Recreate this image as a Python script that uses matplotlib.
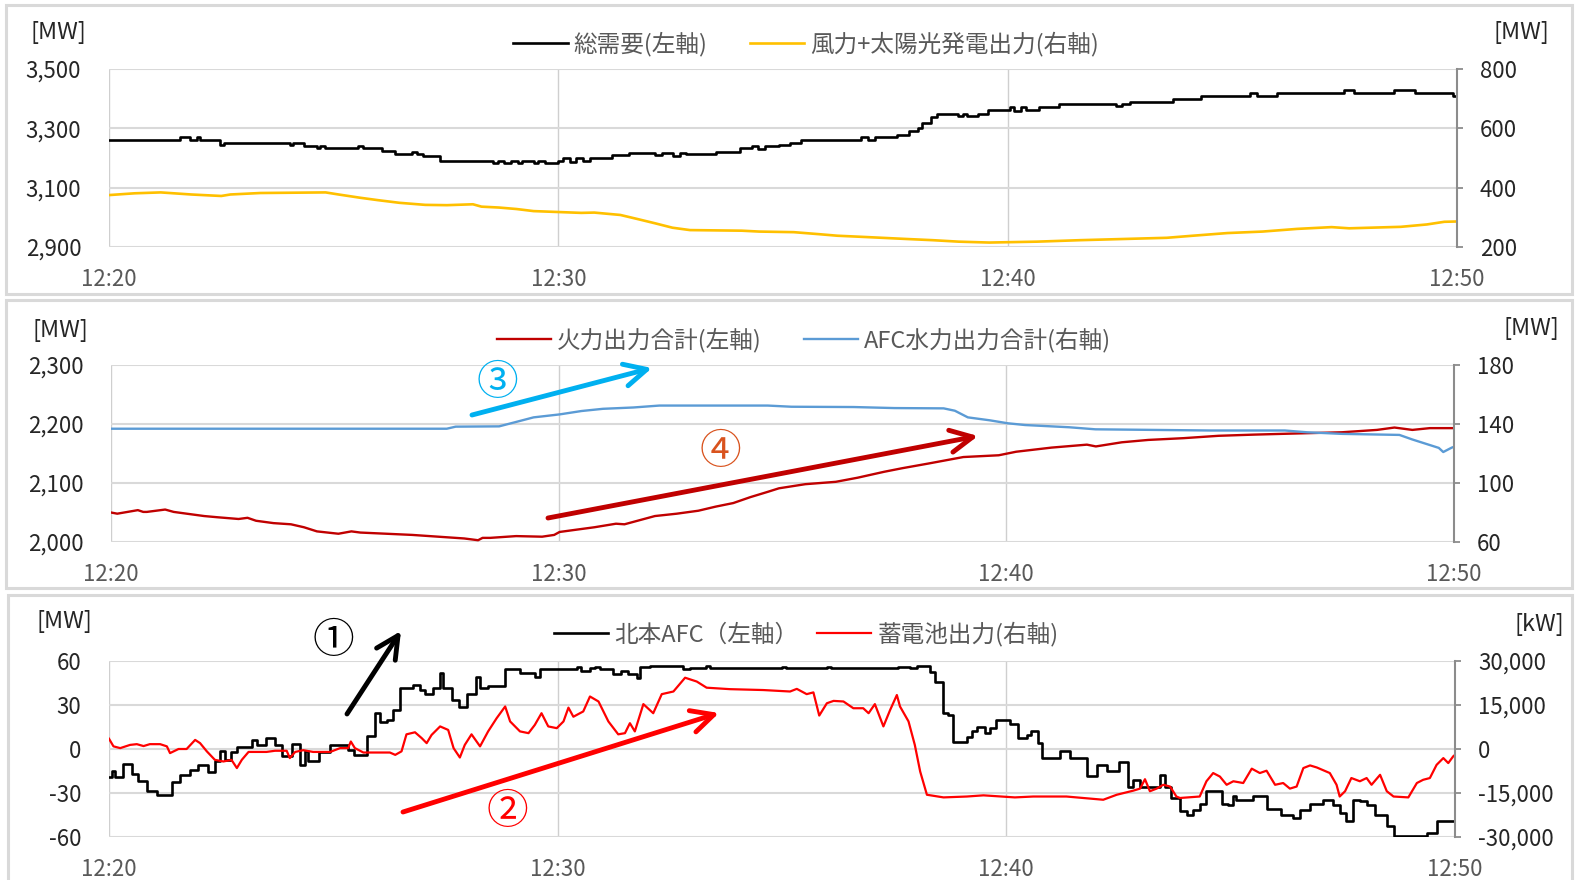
import matplotlib
matplotlib.use("Agg")
import matplotlib.pyplot as plt
from matplotlib.patches import Rectangle, FancyArrowPatch
from matplotlib.ticker import FuncFormatter

# ---------------------------------------------------------------------------
# Data (time in minutes after 12:20)
# ---------------------------------------------------------------------------
TIME_TICKS = [0, 10, 20, 30]
TIME_LABELS = ["12:20", "12:30", "12:40", "12:50"]

# Total demand [MW] (left axis, top panel)
DEMAND_MIN = [0, 1.58, 1.81, 1.95, 2.02, 2.46, 2.56, 4.02, 4.10, 4.33, 4.62, 4.70, 4.80,
              5.55, 5.65, 6.07, 6.36, 6.75, 6.85, 6.98, 7.37, 8.55, 8.65, 8.80, 8.95,
              9.10, 9.20, 9.45, 9.55, 9.70, 10.00, 10.10, 10.25, 10.40, 10.55, 10.70,
              11.19, 11.57, 12.15, 12.30, 12.55, 12.70, 12.85, 13.50, 14.05, 14.30,
              14.45, 14.60, 14.90, 15.15, 15.40, 16.74, 16.90, 17.05, 17.53, 17.80,
              18.00, 18.10, 18.30, 18.43, 18.90, 19.00, 19.10, 19.34, 19.56, 20.05,
              20.15, 20.30, 20.40, 20.70, 21.15, 22.40, 22.55, 22.73, 23.68, 24.30,
              25.40, 25.55, 26.00, 27.48, 27.70, 28.60, 29.06, 29.90, 30.00]
DEMAND_MW = [3260, 3272, 3260, 3272, 3260, 3245, 3250, 3244, 3250, 3240, 3234, 3240, 3235,
             3242, 3235, 3225, 3215, 3220, 3215, 3208, 3190, 3182, 3190, 3182, 3190,
             3182, 3190, 3182, 3190, 3182, 3190, 3200, 3188, 3200, 3190, 3200,
             3210, 3218, 3210, 3218, 3208, 3218, 3212, 3220, 3233, 3240,
             3232, 3240, 3245, 3250, 3260, 3272, 3262, 3272, 3276, 3290,
             3300, 3318, 3338, 3350, 3340, 3350, 3343, 3350, 3362, 3372,
             3360, 3372, 3362, 3372, 3381, 3376, 3381, 3390, 3398, 3410,
             3420, 3410, 3420, 3430, 3420, 3430, 3420, 3410, 3410]

# Wind + solar output [MW] (right axis, top panel)
RENEW_MIN = [0, 0.57, 1.15, 1.83, 2.50, 2.70, 3.37, 4.82, 5.11, 5.59, 5.98, 6.46, 7.04,
             7.52, 8.10, 8.29, 8.68, 9.07, 9.45, 10.51, 10.80, 11.38, 11.77, 12.15,
             12.54, 12.93, 14.08, 14.47, 15.24, 15.82, 16.21, 16.79, 17.75, 18.33,
             18.91, 19.59, 20.65, 21.61, 22.58, 23.54, 24.12, 24.89, 25.67, 26.44,
             27.21, 27.60, 28.75, 29.33, 29.72, 30.00]
RENEW_MW = [375, 381, 384, 377, 372, 377, 382, 384, 377, 366, 358, 349, 342,
            341, 344, 336, 333, 328, 321, 315, 316, 308, 294, 280,
            265, 257, 255, 252, 250, 243, 238, 234, 227, 223,
            218, 215, 218, 223, 227, 231, 238, 247, 252, 261,
            267, 263, 268, 276, 285, 286]

# Thermal output total [MW] (left axis, middle panel)
THERMAL_MIN = [0, 0.14, 0.60, 0.72, 0.80, 1.21, 1.40, 1.69, 2.08, 2.37, 2.85, 3.05, 3.24,
               3.63, 4.02, 4.31, 4.60, 5.08, 5.37, 5.57, 6.15, 6.73, 7.31, 7.89, 8.20,
               8.30, 8.47, 9.05, 9.63, 9.90, 10.02, 10.31, 10.80, 11.28, 11.47, 12.15,
               12.64, 13.12, 13.51, 13.90, 14.28, 14.67, 14.92, 15.51, 16.19, 16.68,
               17.27, 17.67, 18.26, 19.04, 19.83, 20.22, 21.01, 21.80, 22.00, 22.58,
               23.17, 23.96, 24.74, 25.53, 26.51, 27.50, 28.28, 28.67, 29.07, 29.46,
               30.00]
THERMAL_MW = [2050, 2048, 2054, 2051, 2051, 2055, 2051, 2048, 2044, 2042, 2039, 2041, 2036,
              2032, 2030, 2025, 2018, 2014, 2018, 2016, 2014, 2012, 2009, 2006, 2003,
              2007, 2007, 2010, 2009, 2012, 2017, 2020, 2025, 2031, 2030, 2044,
              2048, 2053, 2060, 2066, 2076, 2085, 2091, 2098, 2102, 2109,
              2119, 2125, 2133, 2144, 2147, 2153, 2160, 2165, 2162, 2169,
              2173, 2176, 2180, 2182, 2184, 2186, 2190, 2194, 2190, 2193,
              2193]

# AFC hydro output total [MW] (right axis, middle panel)
HYDRO_MIN = [0, 7.50, 7.70, 8.67, 9.00, 9.44, 10.02, 10.51, 10.99, 11.67, 12.25, 14.67,
             15.20, 16.59, 17.50, 18.60, 18.85, 19.14, 19.63, 20.03, 20.42, 21.40,
             21.99, 24.55, 26.22, 26.71, 27.50, 28.78, 29.07, 29.66, 29.76, 29.95, 30.00]
HYDRO_MW = [136.8, 136.8, 138.2, 138.4, 141.0, 144.5, 146.5, 148.8, 150.3, 151.2, 152.5, 152.5,
            151.7, 151.5, 150.8, 150.6, 149.0, 144.5, 142.5, 140.5, 139.3, 137.8,
            136.4, 135.6, 135.6, 134.4, 133.3, 132.6, 129.5, 123.8, 121.0, 124.0, 124.5]

# Hokkaido-Honshu link AFC [MW] (left axis, bottom panel)
AFC_MIN = [0, 0.06, 0.13, 0.32, 0.51, 0.65, 0.84, 1.06, 1.40, 1.58, 1.81, 1.99, 2.21, 2.36,
           2.47, 2.59, 2.73, 2.85, 3.18, 3.29, 3.51, 3.70, 3.85, 4.07, 4.26, 4.37, 4.44,
           4.67, 4.93, 5.33, 5.45, 5.74, 5.93, 6.04, 6.19, 6.34, 6.49, 6.78, 6.93, 7.04,
           7.23, 7.38, 7.45, 7.64, 7.79, 7.97, 8.19, 8.27, 8.45, 8.83, 9.16, 9.49, 9.61,
           10.42, 10.53, 10.72, 10.83, 10.94, 11.24, 11.42, 11.57, 11.76, 11.83, 12.06,
           12.80, 12.95, 13.30, 13.40, 15.00, 15.10, 16.00, 16.10, 17.26, 17.59, 17.85,
           18.00, 18.30, 18.41, 18.59, 18.71, 18.82, 19.12, 19.23, 19.34, 19.52, 19.64,
           19.78, 20.08, 20.27, 20.45, 20.56, 20.71, 20.79, 21.19, 21.42, 21.79, 22.01,
           22.24, 22.50, 22.72, 22.83, 22.98, 23.42, 23.53, 23.68, 23.87, 24.02, 24.16,
           24.31, 24.46, 24.80, 24.95, 25.06, 25.13, 25.50, 25.80, 26.13, 26.39, 26.54,
           26.77, 27.06, 27.29, 27.43, 27.58, 27.73, 27.88, 28.03, 28.22, 28.48, 28.63,
           29.37, 29.59, 30.00]
AFC_MW = [-19.4, -15.3, -19.4, -10.3, -17.0, -21.6, -28.9, -31.6, -22.6, -18.0, -14.4, -10.8,
          -16.0, -8.5, -1.7, -7.4, -2.1, 1.7, 6.2, 2.8, 7.8, 2.8, -5.1, 3.3, -10.8, -1.7,
          -8.5, -2.1, 2.8, -0.6, -4.0, 9.2, 24.4, 18.3, 19.9, 26.7, 41.4, 43.7, 40.3, 37.3,
          41.4, 51.6, 41.4, 33.5, 28.9, 37.3, 49.3, 41.9, 43.2, 54.6, 51.6, 49.3, 54.6,
          56.1, 53.2, 55.0, 56.1, 54.6, 50.9, 53.2, 50.9, 48.2, 56.1, 56.8,
          54.6, 55.5, 56.5, 55.5, 56.2, 55.0, 56.0, 55.3, 55.5, 56.2, 55.0,
          56.8, 52.7, 45.5, 24.4, 23.3, 5.1, 8.5, 12.4, 15.3, 10.8, 14.2,
          19.9, 16.9, 7.4, 9.7, 12.4, 4.0, -5.8, -1.2, -5.8, -18.7, -10.8,
          -14.8, -8.9, -26.2, -21.0, -26.2, -17.6, -26.2, -33.4, -42.5, -44.8, -41.4,
          -37.5, -28.5, -37.5, -38.4, -32.3, -34.6, -32.3, -40.7, -44.8, -47.0, -41.4,
          -37.5, -34.6, -38.0, -43.6, -49.3, -34.6, -35.7, -38.0, -44.8, -52.7, -59.5,
          -57.3, -49.3, -51.1]

# Battery output [kW] (right axis, bottom panel)
BATTERY_MIN = [0, 0.10, 0.25, 0.47, 0.62, 0.77, 0.91, 1.14, 1.29, 1.36, 1.55, 1.73, 1.92,
               2.03, 2.18, 2.36, 2.55, 2.73, 2.85, 2.96, 3.11, 3.51, 3.70, 3.96, 4.03,
               4.15, 4.33, 4.55, 4.93, 5.15, 5.33, 5.39, 5.48, 5.67, 6.26, 6.38, 6.52,
               6.63, 6.82, 6.97, 7.08, 7.19, 7.38, 7.56, 7.68, 7.82, 7.93, 8.08, 8.27,
               8.45, 8.64, 8.83, 8.94, 9.16, 9.35, 9.49, 9.64, 9.79, 9.98, 10.13, 10.24,
               10.35, 10.57, 10.72, 10.91, 11.13, 11.35, 11.50, 11.61, 11.72, 11.91,
               12.13, 12.32, 12.58, 12.84, 13.10, 13.32, 13.84, 14.58, 15.18, 15.33,
               15.55, 15.70, 15.83, 16.00, 16.15, 16.37, 16.59, 16.81, 16.93, 17.07,
               17.26, 17.41, 17.56, 17.63, 17.82, 17.96, 18.08, 18.23, 18.60, 19.12,
               19.49, 20.19, 20.60, 21.34, 21.71, 22.16, 22.46, 22.83, 22.98, 23.09,
               23.20, 23.35, 23.50, 23.65, 23.79, 23.87, 24.31, 24.46, 24.61, 24.76,
               24.91, 25.06, 25.28, 25.47, 25.65, 25.80, 25.99, 26.17, 26.32, 26.47,
               26.62, 26.77, 26.92, 27.21, 27.36, 27.43, 27.55, 27.69, 27.88, 28.03,
               28.14, 28.33, 28.48, 28.63, 28.96, 29.15, 29.29, 29.44, 29.59, 29.74,
               29.85, 29.96, 30.00]
BATTERY_KW = [3500, 900, 300, 1400, 1650, 1000, 1650, 1650, 900, -1400, 0, 0, 3100,
              2000, -800, -3700, -4250, -3700, -6500, -3700, -1000, -1000, -600, -600, -3100,
              -1000, -400, -1000, -1000, 300, 300, 2550, 300, -1200, -1200, -2000, -800,
              5000, 5700, 3700, 2000, 4800, 7700, 6500, 300, -2900, 1400, 5000, 900,
              6000, 10500, 14500, 9400, 6000, 5400, 8200, 12200, 7700, 7100, 9400, 14100,
              11000, 12800, 17900, 16200, 9400, 5000, 5400, 8800, 6000, 15300,
              12200, 18700, 19600, 24300, 23000, 20900, 20400, 20100, 19600, 20500,
              18700, 19300, 11400, 15600, 16400, 16200, 13900, 13900, 12200, 15300,
              7700, 13300, 18400, 14500, 9400, 1400, -7700, -15600, -16500, -16200,
              -15800, -16500, -16200, -16200, -16700, -17300, -15600, -14200, -13500, -10300,
              -14400, -13500, -12200, -12800, -16200, -16700, -16200, -11000, -8200, -9400,
              -12200, -11000, -11600, -6700, -8200, -7400, -12200, -11600, -13500, -12800,
              -6500, -5600, -6300, -8200, -12200, -16200, -14400, -9900, -11000, -9900,
              -12200, -8800, -14400, -16200, -16500, -11600, -10500, -9900, -5400, -3100,
              -4800, -2500, -2000]

# ---------------------------------------------------------------------------
# Figure
# ---------------------------------------------------------------------------
W, H = 1576, 880
plt.rcParams["font.family"] = ["Noto Sans CJK JP", "DejaVu Sans"]

fig = plt.figure(figsize=(W / 100, H / 100), dpi=100)
fig.patch.set_facecolor("white")

GRID = "#D9D9D9"
TEXT_DARK = "#262626"
TEXT_GRAY = "#595959"
AXIS_GRAY = "#8C8C8C"
TICK_SIZE = 16


def fx(px):
    return px / W


def fy(py):
    return 1 - py / H


def comma_fmt(v, _pos):
    return f"{v:,.0f}"


def make_panel(box, ylim_l, yticks_l, ylim_r, yticks_r):
    left, right, top, bottom = box
    ax = fig.add_axes([fx(left), fy(bottom), (right - left) / W, (bottom - top) / H])
    ax2 = ax.twinx()
    for a in (ax, ax2):
        for s in a.spines.values():
            s.set_visible(False)
    ax2.spines["right"].set_visible(True)
    ax2.spines["right"].set_color(AXIS_GRAY)
    ax2.spines["right"].set_linewidth(1.5)

    ax.set_xlim(0, 30)
    ax.set_xticks(TIME_TICKS)
    ax.set_xticklabels(TIME_LABELS)
    ax.set_ylim(*ylim_l)
    ax.set_yticks(yticks_l)
    ax.yaxis.set_major_formatter(FuncFormatter(comma_fmt))
    ax2.set_ylim(*ylim_r)
    ax2.set_yticks(yticks_r)
    ax2.yaxis.set_major_formatter(FuncFormatter(comma_fmt))

    ax.set_axisbelow(True)
    ax.xaxis.grid(True, color="#CFCFCF", lw=1.0)
    ax.yaxis.grid(True, color=GRID, lw=1.5)

    ax.tick_params(axis="x", length=0, pad=15, labelsize=TICK_SIZE, labelcolor=TEXT_GRAY)
    ax.tick_params(axis="y", length=0, pad=20, labelsize=TICK_SIZE, labelcolor=TEXT_DARK)
    ax2.tick_params(axis="y", length=4.5, width=1.3, color=AXIS_GRAY, pad=12,
                    labelsize=TICK_SIZE, labelcolor=TEXT_DARK)
    return ax, ax2


def panel_frame(x0, y0, x1, y1):
    fig.add_artist(Rectangle((fx(x0), fy(y1)), (x1 - x0) / W, (y1 - y0) / H,
                             transform=fig.transFigure, fill=False,
                             edgecolor=GRID, lw=2.2))


def unit_label(x, y, s):
    fig.text(fx(x), fy(y), s, ha="center", va="center", fontsize=17, color=TEXT_DARK)


def legend(ax, handles, cx, cy, colspace=1.8):
    ax.legend(handles=handles, loc="center", bbox_to_anchor=(fx(cx), fy(cy)),
              bbox_transform=fig.transFigure, ncol=2, frameon=False, fontsize=17,
              labelcolor=TEXT_GRAY, handlelength=2.3, handletextpad=0.25,
              columnspacing=colspace, borderpad=0)


def trend_arrow(x0, y0, x1, y1, color):
    fig.add_artist(FancyArrowPatch((fx(x0), fy(y0)), (fx(x1), fy(y1)),
                                   transform=fig.transFigure,
                                   arrowstyle="->,head_length=1.6,head_width=0.8",
                                   mutation_scale=10, lw=3.5, color=color,
                                   shrinkA=0, shrinkB=0))


def circled(x, y, s, color):
    fig.text(fx(x), fy(y), s, ha="center", va="center", fontsize=30, color=color)


# Panel frames
panel_frame(6, 5, 1572, 294)
panel_frame(6, 300, 1572, 588)
panel_frame(8, 595, 1572, 890)

# --- Top panel: demand and renewables ---
ax1, ax1r = make_panel((109, 1457, 69, 247), (2900, 3500), [2900, 3100, 3300, 3500],
                       (200, 800), [200, 400, 600, 800])
l_dem, = ax1.step(DEMAND_MIN, DEMAND_MW, where="post", color="black", lw=1.9,
                  label="総需要(左軸)")
l_ren, = ax1r.plot(RENEW_MIN, RENEW_MW, color="#FFC000", lw=1.9,
                   label="風力+太陽光発電出力(右軸)")
legend(ax1r, [l_dem, l_ren], 806, 44)
unit_label(58, 32, "[MW]")
unit_label(1521, 32, "[MW]")

# --- Middle panel: thermal and AFC hydro ---
ax2, ax2r = make_panel((111, 1454, 365, 542), (2000, 2300), [2000, 2100, 2200, 2300],
                       (60, 180), [60, 100, 140, 180])
l_th, = ax2.plot(THERMAL_MIN, THERMAL_MW, color="#C00000", lw=1.7,
                 label="火力出力合計(左軸)")
l_hy, = ax2r.plot(HYDRO_MIN, HYDRO_MW, color="#5B9BD5", lw=1.7,
                  label="AFC水力出力合計(右軸)")
legend(ax2r, [l_th, l_hy], 804, 340)
unit_label(60, 330, "[MW]")
unit_label(1531, 328, "[MW]")

# --- Bottom panel: link AFC and battery ---
ax3, ax3r = make_panel((109, 1455, 661, 837), (-60, 60), [-60, -30, 0, 30, 60],
                       (-30000, 30000), [-30000, -15000, 0, 15000, 30000])
l_afc, = ax3.step(AFC_MIN, AFC_MW, where="post", color="black", lw=1.9,
                  label="北本AFC（左軸）")
l_bat, = ax3r.plot(BATTERY_MIN, BATTERY_KW, color="#FF0000", lw=1.6,
                   label="蓄電池出力(右軸)")
legend(ax3r, [l_afc, l_bat], 806, 634, colspace=0.8)
unit_label(64, 621, "[MW]")
unit_label(1539, 625, "[kW]")

# Trend annotations
trend_arrow(472, 415, 652, 368, "#00B0F0")
circled(497, 384, "③", "#00B0F0")
trend_arrow(548, 518, 978, 436, "#C00000")
circled(720, 452, "④", "#D9531E")
trend_arrow(347, 714, 401, 631, "black")
circled(333, 641, "①", "black")
trend_arrow(403, 812, 719, 713, "#FF0000")
circled(507, 812, "②", "#FF0000")

fig.savefig("out.png", dpi=100, facecolor="white")
